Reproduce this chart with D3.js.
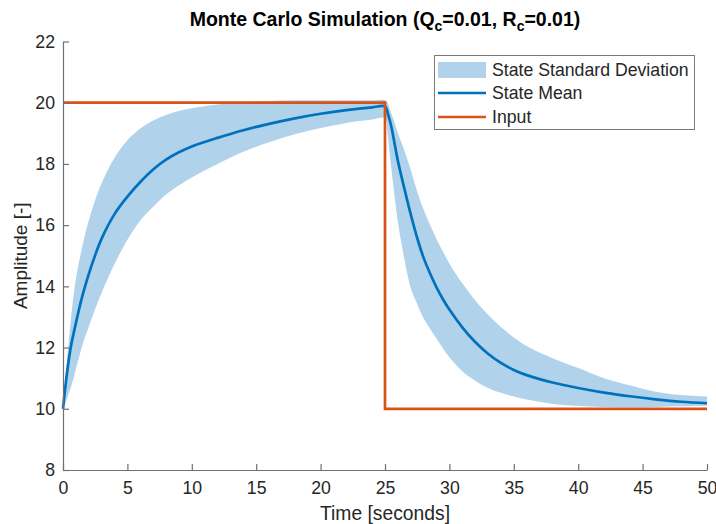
<!DOCTYPE html>
<html>
<head>
<meta charset="utf-8">
<script src="https://cdn.jsdelivr.net/npm/d3@7"></script>
<style>
  html, body { margin: 0; padding: 0; background: #fff; }
  svg { display: block; font-family: "Liberation Sans", Arial, Helvetica, sans-serif; }
</style>
</head>
<body>
<svg id="chart" width="716" height="524"></svg>
<script>
// ---- data ----
const bandT = [0,0.2,0.4,0.7,1,1.5,2,2.5,3,4,5,6,7,8,9,10,12,14,16,18,20,22,24,25,
  25.2,25.4,25.7,26,26.5,27,27.5,28,29,30,31,32,33,34,35,36,38,40,42,44,46,48,50];
const bandUpper = [10,11.06,12,13.27,14.24,15.3,16.15,16.82,17.37,18.2,18.77,19.16,19.42,19.6,19.73,19.82,19.94,20.02,20.06,20.08,20.08,20.08,20.08,20.08,
  20.0,19.75,19.4,19.0,18.45,17.8,17.1,16.5,15.55,14.75,14.1,13.55,13.07,12.67,12.33,12.05,11.65,11.33,11.0,10.77,10.56,10.45,10.4];
const bandLower = [10,10.2,10.45,10.82,11.3,12.07,12.69,13.26,13.79,14.73,15.52,16.15,16.6,17.0,17.3,17.56,18.0,18.4,18.71,18.97,19.17,19.34,19.45,19.49,
  19.0,18.2,17.1,16.1,14.9,13.95,13.42,12.95,12.3,11.68,11.23,10.92,10.68,10.52,10.4,10.3,10.16,10.09,10.06,10.05,10.06,10.08,10.1];

const meanT = [0,0.3,0.6,1,1.5,2,2.5,3,4,5,6,7,8,9,10,12,14,16,18,20,22,24,25,
  25.25,25.5,25.75,26,26.5,27,27.5,28,28.5,29,29.5,30,31,32,33,34,35,36,37,38,40,42,44,46,48,50];
const meanVals = [10,11.13,12,12.8,13.68,14.4,15.02,15.56,16.36,16.93,17.41,17.82,18.14,18.38,18.57,18.85,19.1,19.31,19.49,19.64,19.76,19.85,19.88,
  19.6,19.2,18.65,18.1,17.2,16.35,15.58,14.93,14.42,13.97,13.58,13.24,12.66,12.18,11.8,11.5,11.27,11.1,10.97,10.86,10.68,10.53,10.41,10.31,10.23,10.18];

const inputT = [0,25,25,50];
const inputVals = [20,20,10,10];

const xTicks = [0,5,10,15,20,25,30,35,40,45,50];
const yTicks = [8,10,12,14,16,18,20,22];

const legendLabels = ["State Standard Deviation","State Mean","Input"];

// ---- drawing ----
const svg = d3.select("#chart");
const W = 716, H = 524;
const m = {left: 63, right: 9, top: 41.5, bottom: 54};
const x = d3.scaleLinear().domain([0,50]).range([m.left, W - m.right]);
const y = d3.scaleLinear().domain([8,22]).range([H - m.bottom, m.top]);

const colBand = "#b0d2ea", colMean = "#0072BD", colInput = "#D95319";
const textCol = "#262626", axisCol = "#707070";
const curve = d3.curveCatmullRom.alpha(0.5);

// band
const bandData = bandT.map((t,i) => ({t, lo: bandLower[i], hi: bandUpper[i]}));
svg.append("path")
  .datum(bandData)
  .attr("fill", colBand)
  .attr("d", d3.area().x(d => x(d.t)).y0(d => y(d.lo)).y1(d => y(d.hi)).curve(curve));

// mean
const meanData = meanT.map((t,i) => ({t, v: meanVals[i]}));
svg.append("path")
  .datum(meanData)
  .attr("fill", "none").attr("stroke", colMean).attr("stroke-width", 2.7)
  .attr("stroke-linejoin", "round")
  .attr("d", d3.line().x(d => x(d.t)).y(d => y(d.v)).curve(curve));

// input
const inputData = inputT.map((t,i) => ({t, v: inputVals[i]}));
svg.append("path")
  .datum(inputData)
  .attr("fill", "none").attr("stroke", colInput).attr("stroke-width", 2.7)
  .attr("d", d3.line().x(d => x(d.t)).y(d => y(d.v)));

// axes (MATLAB-style inward ticks)
const xAxis = d3.axisBottom(x).tickValues(xTicks).tickSizeInner(-6).tickSizeOuter(0).tickPadding(11);
const yAxis = d3.axisLeft(y).tickValues(yTicks).tickSizeInner(-6).tickSizeOuter(0).tickPadding(8);

const gx = svg.append("g").attr("transform", `translate(0,${H - m.bottom})`).call(xAxis);
const gy = svg.append("g").attr("transform", `translate(${m.left},0)`).call(yAxis);
[gx, gy].forEach(g => {
  g.select(".domain").attr("stroke", axisCol).attr("stroke-width", 1.2);
  g.selectAll(".tick line").attr("stroke", axisCol).attr("stroke-width", 1.2);
  g.selectAll(".tick text").attr("fill", textCol).attr("font-size", 17.7)
    .attr("font-family", "'Liberation Sans', Arial, sans-serif");
});

// axis titles
svg.append("text").attr("x", x(25)).attr("y", 520)
  .attr("text-anchor", "middle").attr("fill", textCol).attr("font-size", 19.3)
  .text("Time [seconds]");
svg.append("text").attr("transform", `translate(27,${(m.top + H - m.bottom)/2}) rotate(-90)`)
  .attr("text-anchor", "middle").attr("fill", textCol).attr("font-size", 19)
  .text("Amplitude [-]");

// title with subscripts
const title = svg.append("text").attr("x", x(25)).attr("y", 26)
  .attr("text-anchor", "middle").attr("fill", "#000").attr("font-size", 19.5).attr("font-weight", "bold");
title.append("tspan").text("Monte Carlo Simulation (Q");
title.append("tspan").attr("dy", 5).attr("font-size", 14).text("c");
title.append("tspan").attr("dy", -5).text("=0.01, R");
title.append("tspan").attr("dy", 5).attr("font-size", 14).text("c");
title.append("tspan").attr("dy", -5).text("=0.01)");

// legend
const lg = svg.append("g");
lg.append("rect").attr("x", 434.5).attr("y", 55.5).attr("width", 260).attr("height", 74)
  .attr("fill", "#fff").attr("stroke", "#7a7a7a").attr("stroke-width", 1);
const rowsY = [70, 93, 117];
lg.append("rect").attr("x", 438).attr("y", rowsY[0] - 8).attr("width", 48).attr("height", 16).attr("fill", colBand);
lg.append("line").attr("x1", 438).attr("x2", 486).attr("y1", rowsY[1]).attr("y2", rowsY[1])
  .attr("stroke", colMean).attr("stroke-width", 2.7);
lg.append("line").attr("x1", 438).attr("x2", 486).attr("y1", rowsY[2]).attr("y2", rowsY[2])
  .attr("stroke", colInput).attr("stroke-width", 2.7);
legendLabels.forEach((s,i) => {
  lg.append("text").attr("x", 492).attr("y", rowsY[i]).attr("dy", "0.35em")
    .attr("fill", textCol).attr("font-size", 17.7).text(s);
});
</script>
</body>
</html>
